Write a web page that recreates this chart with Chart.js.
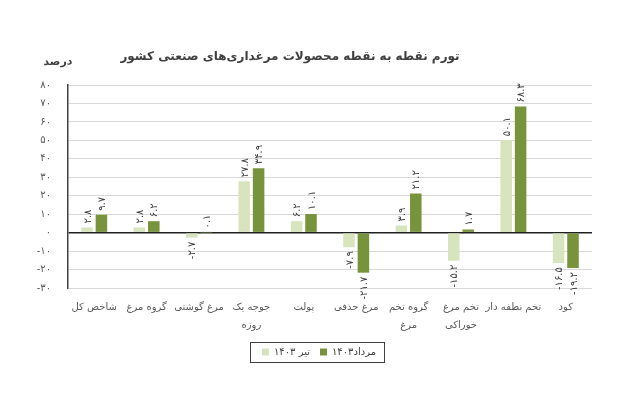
<!DOCTYPE html>
<html lang="fa">
<head>
<meta charset="utf-8">
<script src="https://cdn.jsdelivr.net/npm/chart.js@4/dist/chart.umd.min.js"></script>
<style>
  body { margin: 0; background: #fff; }
  #chart { display: block; }
</style>
</head>
<body>
<canvas id="chart" width="628" height="399"></canvas>
<script>
// ---- data ----
const categories = [
    'شاخص کل',
    'گروه مرغ',
    'مرغ گوشتی',
    ['جوجه یک', 'روزه'],
    'پولت',
    'مرغ حذفی',
    ['گروه تخم', 'مرغ'],
    ['تخم مرغ', 'خوراکی'],
    'تخم نطفه دار',
    'کود'
];
const tir1403 = [2.8, 2.8, -2.7, 27.8, 6.2, -7.9, 3.9, -15.2, 50.1, -16.5];
const mordad1403 = [9.7, 6.2, 0.1, 34.9, 10.1, -21.7, 21.2, 1.7, 68.3, -19.2];
const seriesNames = ['تیر ۱۴۰۳', 'مرداد۱۴۰۳'];
const chartTitle = 'تورم نقطه به نقطه محصولات مرغداری‌های صنعتی کشور';
const yUnit = 'درصد';

const FONT = '"DejaVu Sans", sans-serif';
const faDigits = '۰۱۲۳۴۵۶۷۸۹';
function toFa(v) {
    return String(v).replace(/[0-9]/g, d => faDigits[d]);
}

// title + unit label
const textPlugin = {
    id: 'textPlugin',
    afterDraw(chart) {
        const ctx = chart.ctx;
        ctx.save();
        ctx.fillStyle = '#404040';
        ctx.textBaseline = 'middle';
        ctx.textAlign = 'center';
        ctx.font = 'bold 12px ' + FONT;
        ctx.fillText(chartTitle, 290, 57);
        ctx.font = 'bold 11px ' + FONT;
        ctx.fillText(yUnit, 58, 62);
        ctx.restore();
    }
};

// vertical value labels on the bars
const barLabels = {
    id: 'barLabels',
    afterDatasetsDraw(chart) {
        const ctx = chart.ctx;
        ctx.save();
        ctx.font = '10px ' + FONT;
        ctx.fillStyle = '#404040';
        ctx.textBaseline = 'middle';
        chart.data.datasets.forEach((ds, i) => {
            chart.getDatasetMeta(i).data.forEach((bar, j) => {
                const v = ds.data[j];
                ctx.save();
                if (v >= 0) {
                    ctx.translate(bar.x + 1, bar.y - 4);
                    ctx.rotate(-Math.PI / 2);
                    ctx.textAlign = 'left';
                } else {
                    ctx.translate(bar.x + 1, bar.y + 4);
                    ctx.rotate(-Math.PI / 2);
                    ctx.textAlign = 'right';
                }
                ctx.fillText(toFa(v.toFixed(1)), 0, 0);
                ctx.restore();
            });
        });
        ctx.restore();
    }
};

// border around the legend
const legendBox = {
    id: 'legendBox',
    afterDraw(chart) {
        const boxes = chart.legend.legendHitBoxes;
        if (!boxes || !boxes.length) return;
        const first = boxes[0], last = boxes[boxes.length - 1];
        const ctx = chart.ctx;
        ctx.save();
        ctx.strokeStyle = '#404040';
        ctx.lineWidth = 1;
        const x0 = first.left - 12, x1 = last.left + last.width + 8;
        const y0 = first.top - 5, y1 = first.top + first.height + 5;
        ctx.strokeRect(Math.round(x0) + 0.5, Math.round(y0) + 0.5, Math.round(x1 - x0), Math.round(y1 - y0));
        ctx.restore();
    }
};

new Chart(document.getElementById('chart'), {
    type: 'bar',
    data: {
        labels: categories,
        datasets: [
            {
                label: seriesNames[0],
                data: tir1403,
                backgroundColor: '#d7e4bd',
                categoryPercentage: 0.55,
                barPercentage: 0.8
            },
            {
                label: seriesNames[1],
                data: mordad1403,
                backgroundColor: '#77933c',
                categoryPercentage: 0.55,
                barPercentage: 0.8
            }
        ]
    },
    options: {
        responsive: false,
        animation: false,
        layout: { padding: { top: 85, right: 0, left: 10, bottom: 32 } },
        plugins: {
            legend: {
                position: 'bottom',
                labels: {
                    boxWidth: 7,
                    boxHeight: 7,
                    padding: 10,
                    color: '#404040',
                    font: { family: FONT, size: 10 }
                }
            },
            title: { display: false },
            tooltip: { enabled: false }
        },
        scales: {
            x: {
                grid: { display: false },
                border: { display: false },
                ticks: {
                    color: '#595959',
                    font: { family: FONT, size: 10, lineHeight: 1.8 },
                    padding: 2,
                    maxRotation: 0,
                    autoSkip: false
                },
                afterFit: s => { s.height = 49; }
            },
            y: {
                min: -30,
                max: 80,
                border: { color: '#404040', width: 1.5 },
                grid: {
                    drawTicks: false,
                    color: c => c.tick.value === 0 ? '#202020' : '#d9d9d9',
                    lineWidth: c => c.tick.value === 0 ? 1.5 : 1
                },
                ticks: {
                    stepSize: 10,
                    padding: 17,
                    color: '#595959',
                    font: { family: FONT, size: 10 },
                    callback: v => toFa(v)
                },
                afterFit: s => { s.width = 58; }
            },
            // empty spacer on the right so the plot ends where the original does
            spacer: {
                type: 'linear',
                position: 'right',
                grid: { display: false },
                border: { display: false },
                ticks: { display: false },
                afterFit: s => { s.width = 36; }
            }
        }
    },
    plugins: [textPlugin, barLabels, legendBox]
});
</script>
</body>
</html>
